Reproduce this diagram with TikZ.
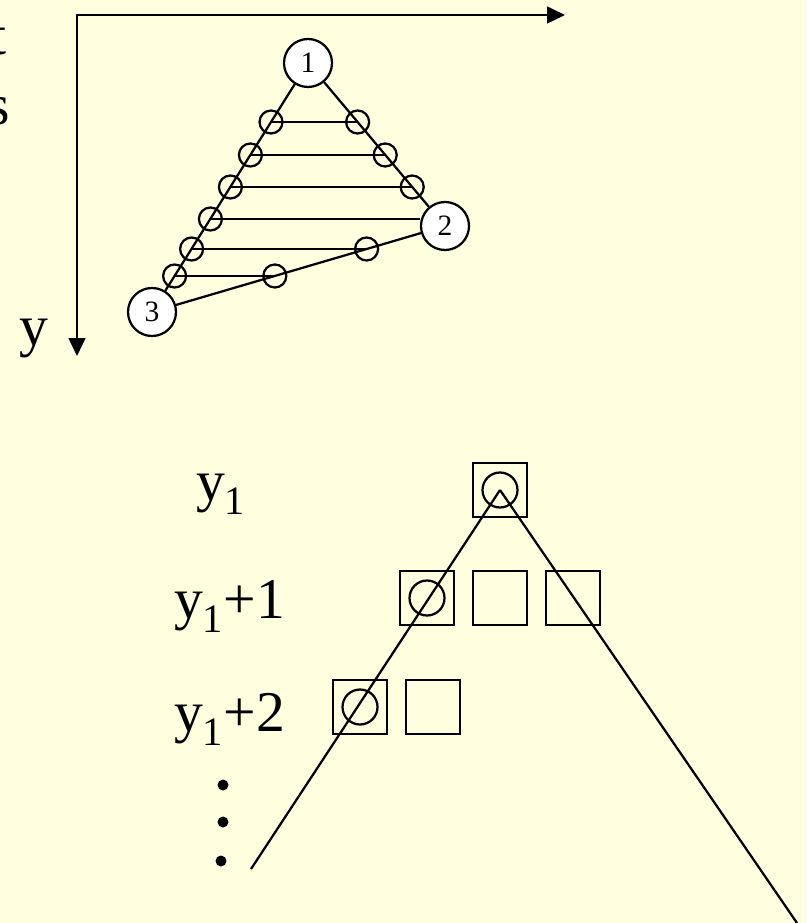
\documentclass[tikz,border=0pt]{standalone}
\usepackage{fontspec}
\setmainfont{Liberation Serif}
\usepackage{tikz}
\usetikzlibrary{arrows.meta}

\definecolor{bgyellow}{RGB}{255,255,224}

\tikzset{
  bigvert/.style={draw, circle, fill=white, minimum size=1.2cm, inner sep=0pt, font=\fontsize{21}{25}\selectfont},
  smallvert/.style={draw, circle, minimum size=0.575cm, inner sep=0pt},
  cell/.style={draw, rectangle, minimum size=1.35cm, inner sep=0pt},
  cellmark/.style={draw, circle, minimum size=0.875cm, inner sep=0pt},
  bigtext/.style={inner sep=0pt, font=\fontsize{41}{49}\selectfont},
  dotmark/.style={fill, circle, minimum size=0.275cm, inner sep=0pt},
  axisarrow/.style={{Triangle[length=0.45cm,width=0.42cm]}-{Triangle[length=0.45cm,width=0.42cm]}}
}

\begin{document}
\begin{tikzpicture}[line width=1.6pt]
\useasboundingbox (0,0) rectangle (20.15,-23.075);
\fill[bgyellow] (0,0) rectangle (20.15,-23.075);
\clip (0,0) rectangle (20.15,-23.075);

% cut-off text at the left edge
\node[bigtext, anchor=base east] (cutt) at (0.2,-1.375) {t};
\node[bigtext, anchor=base east] (cuts) at (0.275,-3.125) {s};

% axes
\coordinate (orig) at (1.925,-0.375);
\coordinate (xend) at (14.125,-0.375);
\coordinate (yend) at (1.925,-8.9);
\draw[axisarrow] (xend) -- (orig) -- (yend);
\node[bigtext, anchor=base west] (ylabel) at (0.45,-8.625) {y};

% triangle
\node[bigvert] (n1) at (7.7,-1.575) {1};
\node[bigvert] (n2) at (11.125,-5.65) {2};
\node[bigvert] (n3) at (3.8,-7.8) {3};

\node[smallvert] (l1) at (6.775,-3.05) {};
\node[smallvert] (l2) at (6.26,-3.875) {};
\node[smallvert] (l3) at (5.76,-4.675) {};
\node[smallvert] (l4) at (5.26,-5.475) {};
\node[smallvert] (l5) at (4.79,-6.225) {};
\node[smallvert] (l6) at (4.365,-6.9) {};

\node[smallvert] (r1) at (8.94,-3.05) {};
\node[smallvert] (r2) at (9.63,-3.875) {};
\node[smallvert] (r3) at (10.305,-4.675) {};

\node[smallvert] (b1) at (9.165,-6.225) {};
\node[smallvert] (b2) at (6.87,-6.9) {};

\draw[-] (n1) -- (n3);
\draw[-] (n1) -- (n2);
\draw[-] (n3) -- (n2);

% scan lines
\draw[-] (l1.center) -- (r1.center);
\draw[-] (l2.center) -- (r2.center);
\draw[-] (l3.center) -- (r3.center);
\draw[-] (l4.center) -- (l4.center -| n2.west);
\draw[-] (l5.center) -- (b1.center);
\draw[-] (l6.center) -- (b2.center);

% rows of pixels
\node[bigtext, anchor=base west] (row1) at (4.875,-12.5) {y\textsubscript{1}};
\node[bigtext, anchor=base west] (row2) at (4.325,-15.45) {y\textsubscript{1}+1};
\node[bigtext, anchor=base west] (row3) at (4.325,-18.275) {y\textsubscript{1}+2};

\node[dotmark] (dot1) at (5.575,-19.625) {};
\node[dotmark] (dot2) at (5.575,-20.55) {};
\node[dotmark] (dot3) at (5.525,-21.525) {};

\node[cell] (a) at (12.5,-12.25) {};
\node[cellmark] (am) at (a.center) {};

\node[cell] (b1c) at (10.675,-14.95) {};
\node[cellmark] (b1m) at (b1c.center) {};
\node[cell] (b2c) at (12.5,-14.95) {};
\node[cell] (b3c) at (14.325,-14.95) {};

\node[cell] (c1c) at (9,-17.675) {};
\node[cellmark] (c1m) at (c1c.center) {};
\node[cell] (c2c) at (10.825,-17.675) {};

\coordinate (lend) at (6.275,-21.725);
\coordinate (rend) at (19.925,-23.075);
\draw[-] (a.center) -- (lend);
\draw[-] (a.center) -- (rend);

\end{tikzpicture}
\end{document}
